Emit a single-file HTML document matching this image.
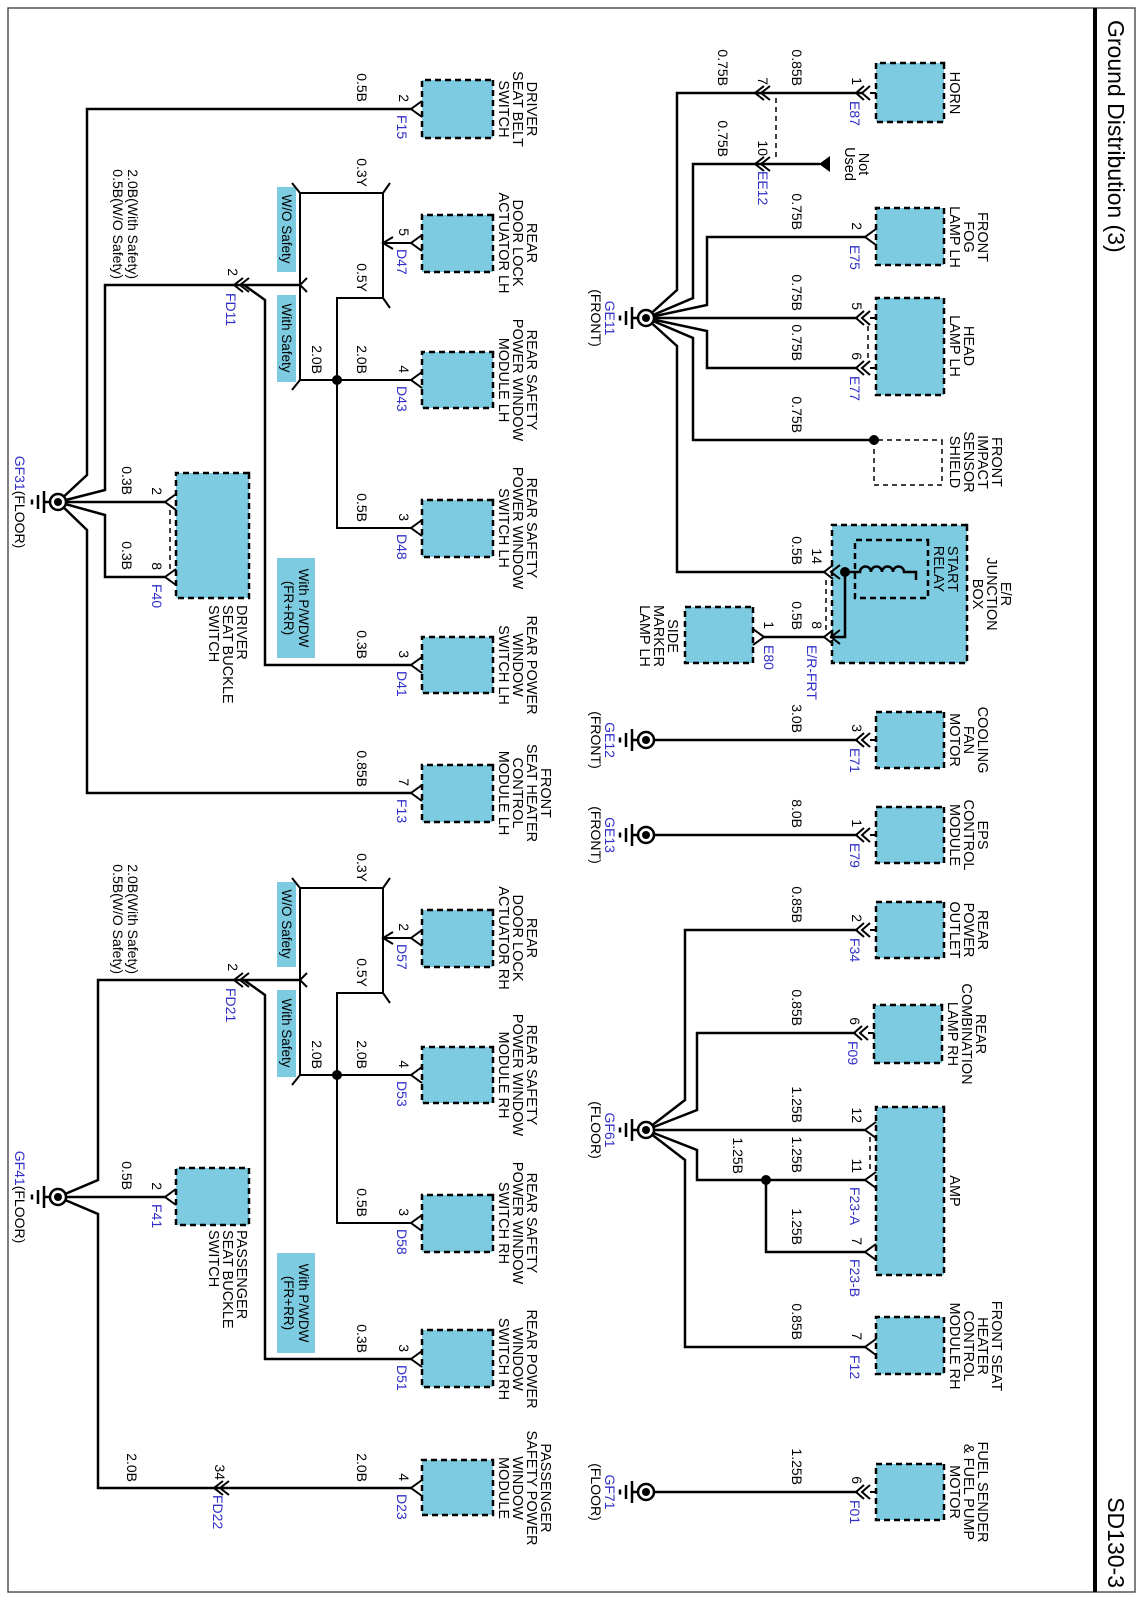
<!DOCTYPE html>
<html><head><meta charset="utf-8"><style>
html,body{margin:0;padding:0;background:#fff;}
#wrap{position:absolute;left:0;top:0;width:1600px;height:1142px;transform-origin:0 0;transform:translate(1142px,0) rotate(90deg);}
svg text{font-family:"Liberation Sans",Arial,sans-serif;}
</style></head><body>
<div id="wrap">
<svg width="1600" height="1142" viewBox="0 0 1600 1142" xmlns="http://www.w3.org/2000/svg">
<rect x="0" y="0" width="1600" height="1142" fill="#fff"/>
<rect x="8" y="7" width="1584" height="1127" fill="none" stroke="#555" stroke-width="1.5"/>
<line x1="8" y1="47" x2="1592" y2="47" stroke="#000" stroke-width="4"/>
<text x="20" y="34" font-size="23">Ground Distribution (3)</text>
<text x="1588" y="34" font-size="23" text-anchor="end">SD130-3</text>

<!-- boxes -->
<g fill="#7ccbe0" stroke="#000" stroke-width="2.5" stroke-dasharray="6 4">
<rect x="63" y="198" width="59" height="68"/>
<rect x="208" y="198" width="57" height="68"/>
<rect x="298" y="198" width="97" height="68"/>
<rect x="525" y="175" width="138" height="135"/>
<rect x="607" y="389" width="56" height="68"/>
<rect x="712" y="198" width="56" height="68"/>
<rect x="807" y="198" width="56" height="68"/>
<rect x="902" y="198" width="56" height="68"/>
<rect x="1005" y="200" width="58" height="68"/>
<rect x="1107" y="198" width="168" height="68"/>
<rect x="1317" y="198" width="57" height="68"/>
<rect x="1464" y="198" width="56" height="68"/>
<rect x="80" y="649" width="58" height="71"/>
<rect x="215" y="649" width="57" height="71"/>
<rect x="352" y="649" width="56" height="71"/>
<rect x="500" y="649" width="57" height="71"/>
<rect x="637" y="649" width="56" height="71"/>
<rect x="765" y="649" width="57" height="71"/>
<rect x="910" y="649" width="57" height="71"/>
<rect x="1047" y="649" width="56" height="71"/>
<rect x="1195" y="649" width="57" height="71"/>
<rect x="1330" y="649" width="57" height="71"/>
<rect x="1460" y="649" width="55" height="71"/>
<rect x="473" y="893" width="125" height="73"/>
<rect x="1168" y="893" width="57" height="73"/>
</g>
<rect x="540" y="214" width="58" height="73" fill="none" stroke="#000" stroke-width="2.5" stroke-dasharray="6 4"/>
<rect x="440" y="200" width="45" height="68" fill="#fff" stroke="#000" stroke-width="1.5" stroke-dasharray="5 4"/>

<!-- option label boxes -->
<g fill="#7ccbe0">
<rect x="187" y="846" width="85" height="19"/>
<rect x="295" y="846" width="87" height="19"/>
<rect x="558" y="827" width="100" height="38"/>
<rect x="882" y="846" width="85" height="19"/>
<rect x="990" y="846" width="87" height="19"/>
<rect x="1253" y="827" width="100" height="38"/>
</g>
<g font-size="13.5" text-anchor="middle">
<text x="229" y="860">W/O Safety</text>
<text x="338" y="860">With Safety</text>
<text x="608" y="843">With P/WDW</text><text x="608" y="858">(FR+RR)</text>
<text x="924" y="860">W/O Safety</text>
<text x="1033" y="860">With Safety</text>
<text x="1303" y="843">With P/WDW</text><text x="1303" y="858">(FR+RR)</text>
</g>

<!-- wires -->
<g fill="none" stroke="#000" stroke-width="2.5">
<path d="M93 280 V465 H290 L318 496"/>
<path d="M164 322 V449 H298 L318 496"/>
<path d="M237 277 V435 H305 L318 496"/>
<path d="M318 284 V496"/>
<path d="M368 284 V435 H331 L318 496"/>
<path d="M440 268 V449 H338 L318 496"/>
<path d="M572 318 V465 H346 L318 496"/>
<path d="M572 297 H637 V312"/>
<path d="M637 318 V380"/>
<path d="M740 284 V496"/>
<path d="M835 284 V496"/>
<path d="M930 284 V457 H1100 L1130 496"/>
<path d="M1033 286 V445 H1110 L1130 496"/>
<path d="M1130 277 V496"/>
<path d="M1180 277 V445 H1150 L1130 496"/>
<path d="M1252 277 V376 H1180"/>
<path d="M1347 277 V457 H1160 L1130 496"/>
<path d="M1492 284 V496"/>
<!-- relay -->
<path d="M572 297 V282 a5.5 5.5 0 0 1 0 -11 a5.5 5.5 0 0 1 0 -11 a5.5 5.5 0 0 1 0 -11 a5.5 5.5 0 0 1 0 -11 V226 H580"/>
<!-- left group -->
<path d="M109 731 V1055 H475 L502 1084"/>
<path d="M285 842 V1037 H490 L502 1084"/>
<path d="M285 898 L300 877 H665 V731"/>
<path d="M793 731 V1055 H530 L502 1084"/>
<path d="M502 977 V1084"/>
<path d="M577 977 V1037 H515 L502 1084"/>
<path d="M980 842 V1044 H1180 L1197 1084"/>
<path d="M980 898 L995 877 H1359 V731"/>
<path d="M1197 977 V1084"/>
<path d="M1488 731 V1044 H1214 L1197 1084"/>
</g>
<g fill="none" stroke="#000" stroke-width="2">
<path d="M193 842 H380 M193 842 V759 M193 759 H298 M243 759 V731 M298 759 V805 H528 V731 M380 842 V731"/>
<path d="M888 842 H1075 M888 842 V759 M888 759 H993 M938 759 V731 M993 759 V805 H1223 V731 M1075 842 V731"/>
<!-- ticks -->
<path d="M193 842 L183 850 M380 842 L390 850 M193 759 L183 752 M298 759 L308 752 M237 749 L243 759 L249 749 M278 835 L285 842 L292 835"/>
<path d="M888 842 L878 850 M1075 842 L1085 850 M888 759 L878 752 M993 759 L1003 752 M932 749 L938 759 L944 749 M973 835 L980 842 L987 835"/>
</g>

<!-- dashed links -->
<g fill="none" stroke="#000" stroke-width="1.5" stroke-dasharray="5 4">
<path d="M98 366 H157"/>
<path d="M326 274 H360"/>
<path d="M580 316 H630"/>
<path d="M1137 272 H1172"/>
<path d="M510 972 H570"/>
</g>

<!-- connectors -->
<g fill="none" stroke="#000" stroke-width="2">
<!-- double top -->
<path d="M93 266 V272 M86 272 L93 280 L100 272 M86 278 L93 286 L100 278"/>
<path d="M318 266 V272 M311 272 L318 280 L325 272 M311 278 L318 286 L325 278"/>
<path d="M368 266 V272 M361 272 L368 280 L375 272 M361 278 L368 286 L375 278"/>
<path d="M740 266 V272 M733 272 L740 280 L747 272 M733 278 L740 286 L747 278"/>
<path d="M835 266 V272 M828 272 L835 280 L842 272 M828 278 L835 286 L842 278"/>
<path d="M930 266 V272 M923 272 L930 280 L937 272 M923 278 L930 286 L937 278"/>
<path d="M1033 268 V274 M1026 274 L1033 282 L1040 274 M1026 280 L1033 288 L1040 280"/>
<path d="M1492 266 V272 M1485 272 L1492 280 L1499 272 M1485 278 L1492 286 L1499 278"/>
<!-- inline 7/10 -->
<path d="M86 372 L93 381 L100 372 M86 378 L93 387 L100 378"/>
<path d="M157 372 L164 381 L171 372 M157 378 L164 387 L171 378"/>
<!-- E/R pins -->
<path d="M565 302 L572 311 L579 302 M565 309 L572 318 L579 309"/>
<path d="M630 302 L637 311 L644 302 M630 309 L637 318 L644 309"/>
<path d="M629 389 L637 378 L645 389"/>
<!-- single top -->
<path d="M229 266 L237 277 L245 266"/>
<path d="M1122 266 L1130 277 L1138 266"/>
<path d="M1172 266 L1180 277 L1188 266"/>
<path d="M1244 266 L1252 277 L1260 266"/>
<path d="M1339 266 L1347 277 L1355 266"/>
<!-- left singles -->
<path d="M101 720 L109 731 L117 720 M235 720 L243 731 L251 720 M372 720 L380 731 L388 720 M520 720 L528 731 L536 720 M657 720 L665 731 L673 720 M785 720 L793 731 L801 720"/>
<path d="M930 720 L938 731 L946 720 M1067 720 L1075 731 L1083 720 M1215 720 L1223 731 L1231 720 M1351 720 L1359 731 L1367 720 M1480 720 L1488 731 L1496 720"/>
<path d="M494 966 L502 977 L510 966 M569 966 L577 977 L585 966 M1189 966 L1197 977 L1205 966"/>
<!-- FD connectors -->
<path d="M278 893 L285 902 L292 893 M278 899 L285 908 L292 899"/>
<path d="M973 893 L980 902 L987 893 M973 899 L980 908 L987 899"/>
<path d="M1481 913 L1488 922 L1495 913 M1481 919 L1488 928 L1495 919"/>
</g>
<polygon points="156,312 172,312 164,323" fill="#000"/>

<!-- dots -->
<g fill="#000">
<circle cx="440" cy="268" r="5"/>
<circle cx="572" cy="297" r="5"/>
<circle cx="1180" cy="376" r="5"/>
<circle cx="380" cy="805" r="5"/>
<circle cx="1075" cy="805" r="5"/>
</g>

<!-- grounds -->
<g id="gnd">
<g transform="translate(318,496)"><circle r="8" fill="#fff" stroke="#000" stroke-width="2.5"/><circle r="4" fill="#000"/><path d="M0 8 V14 M-11 14 H11 M-7 20 H7 M-2.5 26 H2.5" stroke="#000" stroke-width="2.5"/></g>
<g transform="translate(740,496)"><circle r="8" fill="#fff" stroke="#000" stroke-width="2.5"/><circle r="4" fill="#000"/><path d="M0 8 V14 M-11 14 H11 M-7 20 H7 M-2.5 26 H2.5" stroke="#000" stroke-width="2.5"/></g>
<g transform="translate(835,496)"><circle r="8" fill="#fff" stroke="#000" stroke-width="2.5"/><circle r="4" fill="#000"/><path d="M0 8 V14 M-11 14 H11 M-7 20 H7 M-2.5 26 H2.5" stroke="#000" stroke-width="2.5"/></g>
<g transform="translate(1130,496)"><circle r="8" fill="#fff" stroke="#000" stroke-width="2.5"/><circle r="4" fill="#000"/><path d="M0 8 V14 M-11 14 H11 M-7 20 H7 M-2.5 26 H2.5" stroke="#000" stroke-width="2.5"/></g>
<g transform="translate(1492,496)"><circle r="8" fill="#fff" stroke="#000" stroke-width="2.5"/><circle r="4" fill="#000"/><path d="M0 8 V14 M-11 14 H11 M-7 20 H7 M-2.5 26 H2.5" stroke="#000" stroke-width="2.5"/></g>
<g transform="translate(502,1084)"><circle r="8" fill="#fff" stroke="#000" stroke-width="2.5"/><circle r="4" fill="#000"/><path d="M0 8 V14 M-11 14 H11 M-7 20 H7 M-2.5 26 H2.5" stroke="#000" stroke-width="2.5"/></g>
<g transform="translate(1197,1084)"><circle r="8" fill="#fff" stroke="#000" stroke-width="2.5"/><circle r="4" fill="#000"/><path d="M0 8 V14 M-11 14 H11 M-7 20 H7 M-2.5 26 H2.5" stroke="#000" stroke-width="2.5"/></g>
</g>

<!-- component labels -->
<g font-size="14.5" text-anchor="middle">
<text x="93" y="192">HORN</text>
<text x="237" y="164">FRONT</text><text x="237" y="178">FOG</text><text x="237" y="192">LAMP LH</text>
<text x="346" y="178">HEAD</text><text x="346" y="192">LAMP LH</text>
<text x="462" y="150">FRONT</text><text x="462" y="164">IMPACT</text><text x="462" y="178">SENSOR</text><text x="462" y="192">SHIELD</text>
<text x="594" y="141">E/R</text><text x="594" y="155">JUNCTION</text><text x="594" y="169">BOX</text>
<text x="569" y="194">START</text><text x="569" y="208">RELAY</text>
<text x="636" y="474">SIDE</text><text x="636" y="488">MARKER</text><text x="636" y="502">LAMP LH</text>
<text x="740" y="164">COOLING</text><text x="740" y="178">FAN</text><text x="740" y="192">MOTOR</text>
<text x="835" y="164">EPS</text><text x="835" y="178">CONTROL</text><text x="835" y="192">MODULE</text>
<text x="930" y="164">REAR</text><text x="930" y="178">POWER</text><text x="930" y="192">OUTLET</text>
<text x="1034" y="166">REAR</text><text x="1034" y="180">COMBINATION</text><text x="1034" y="194">LAMP RH</text>
<text x="1191" y="192">AMP</text>
<text x="1346" y="150">FRONT SEAT</text><text x="1346" y="164">HEATER</text><text x="1346" y="178">CONTROL</text><text x="1346" y="192">MODULE  RH</text>
<text x="1492" y="164">FUEL SENDER</text><text x="1492" y="178">&amp; FUEL PUMP</text><text x="1492" y="192">MOTOR</text>

<text x="109" y="615">DRIVER</text><text x="109" y="629">SEAT BELT</text><text x="109" y="643">SWITCH</text>
<text x="243" y="615">REAR</text><text x="243" y="629">DOOR LOCK</text><text x="243" y="643">ACTUATOR LH</text>
<text x="380" y="615">REAR SAFETY</text><text x="380" y="629">POWER WINDOW</text><text x="380" y="643">MODULE LH</text>
<text x="528" y="615">REAR SAFETY</text><text x="528" y="629">POWER WINDOW</text><text x="528" y="643">SWITCH LH</text>
<text x="665" y="615">REAR POWER</text><text x="665" y="629">WINDOW</text><text x="665" y="643">SWITCH LH</text>
<text x="793" y="601">FRONT</text><text x="793" y="615">SEAT HEATER</text><text x="793" y="629">CONTROL</text><text x="793" y="643">MODULE LH</text>
<text x="938" y="615">REAR</text><text x="938" y="629">DOOR LOCK</text><text x="938" y="643">ACTUATOR RH</text>
<text x="1075" y="615">REAR SAFETY</text><text x="1075" y="629">POWER WINDOW</text><text x="1075" y="643">MODULE RH</text>
<text x="1223" y="615">REAR SAFETY</text><text x="1223" y="629">POWER WINDOW</text><text x="1223" y="643">SWITCH RH</text>
<text x="1359" y="615">REAR POWER</text><text x="1359" y="629">WINDOW</text><text x="1359" y="643">SWITCH RH</text>
<text x="1488" y="601">PASSENGER</text><text x="1488" y="615">SAFETY POWER</text><text x="1488" y="629">WINDOW</text><text x="1488" y="643">MODULE</text>
</g>
<g font-size="14.5">
<text x="605" y="905">DRIVER</text><text x="605" y="919">SEAT BUCKLE</text><text x="605" y="933">SWITCH</text>
<text x="1230" y="905">PASSENGER</text><text x="1230" y="919">SEAT BUCKLE</text><text x="1230" y="933">SWITCH</text>
<text x="164" y="283" text-anchor="middle">Not</text><text x="164" y="297" text-anchor="middle">Used</text>
</g>

<!-- wire labels -->
<g font-size="14" text-anchor="end">
<text x="86" y="350">0.85B</text>
<text x="86" y="424">0.75B</text>
<text x="157" y="424">0.75B</text>
<text x="230" y="350">0.75B</text>
<text x="311" y="350">0.75B</text>
<text x="361" y="350">0.75B</text>
<text x="433" y="350">0.75B</text>
<text x="565" y="350">0.5B</text>
<text x="630" y="350">0.5B</text>
<text x="733" y="350">3.0B</text>
<text x="828" y="350">8.0B</text>
<text x="923" y="350">0.85B</text>
<text x="1026" y="350">0.85B</text>
<text x="1123" y="350">1.25B</text>
<text x="1173" y="350">1.25B</text>
<text x="1174" y="409">1.25B</text>
<text x="1245" y="350">1.25B</text>
<text x="1340" y="350">0.85B</text>
<text x="1485" y="350">1.25B</text>

<text x="102" y="785">0.5B</text>
<text x="187" y="785">0.3Y</text>
<text x="292" y="785">0.5Y</text>
<text x="374" y="785">2.0B</text>
<text x="374" y="830">2.0B</text>
<text x="522" y="785">0.5B</text>
<text x="659" y="785">0.3B</text>
<text x="787" y="785">0.85B</text>
<text x="882" y="785">0.3Y</text>
<text x="987" y="785">0.5Y</text>
<text x="1069" y="785">2.0B</text>
<text x="1069" y="830">2.0B</text>
<text x="1217" y="785">0.5B</text>
<text x="1353" y="785">0.3B</text>
<text x="1482" y="785">2.0B</text>
<text x="1482" y="1015">2.0B</text>
<text x="495" y="1020">0.3B</text>
<text x="570" y="1020">0.3B</text>
<text x="1190" y="1020">0.5B</text>
<text x="279" y="1014">2.0B(With Safety)</text>
<text x="279" y="1029">0.5B(W/O Safety)</text>
<text x="974" y="1014">2.0B(With Safety)</text>
<text x="974" y="1029">0.5B(W/O Safety)</text>

<!-- pin numbers -->
<text x="85" y="290">1</text>
<text x="85" y="384">7</text>
<text x="156" y="384">10</text>
<text x="230" y="290">2</text>
<text x="310" y="290">5</text>
<text x="360" y="290">6</text>
<text x="564" y="330">14</text>
<text x="629" y="330">8</text>
<text x="629" y="378">1</text>
<text x="732" y="290">3</text>
<text x="827" y="290">1</text>
<text x="922" y="290">2</text>
<text x="1025" y="292">6</text>
<text x="1123" y="290">12</text>
<text x="1173" y="290">11</text>
<text x="1245" y="290">7</text>
<text x="1340" y="290">7</text>
<text x="1484" y="290">6</text>
<text x="102" y="743">2</text>
<text x="236" y="743">5</text>
<text x="373" y="743">4</text>
<text x="521" y="743">3</text>
<text x="658" y="743">3</text>
<text x="786" y="743">7</text>
<text x="931" y="743">2</text>
<text x="1068" y="743">4</text>
<text x="1216" y="743">3</text>
<text x="1352" y="743">3</text>
<text x="1481" y="743">4</text>
<text x="495" y="990">2</text>
<text x="570" y="990">8</text>
<text x="1190" y="990">2</text>
<text x="276" y="914">2</text>
<text x="971" y="914">2</text>
<text x="1480" y="927">34</text>
</g>

<!-- connector IDs -->
<g font-size="14" fill="#3030c8">
<text x="101" y="292">E87</text>
<text x="171" y="384">EE12</text>
<text x="245" y="292">E75</text>
<text x="376" y="292">E77</text>
<text x="645" y="335">E/R-FRT</text>
<text x="645" y="378">E80</text>
<text x="748" y="292">E71</text>
<text x="843" y="292">E79</text>
<text x="938" y="292">F34</text>
<text x="1041" y="294">F09</text>
<text x="1187" y="292">F23-A</text>
<text x="1259" y="292">F23-B</text>
<text x="1355" y="292">F12</text>
<text x="1500" y="292">F01</text>
<text x="115" y="745">F15</text>
<text x="249" y="745">D47</text>
<text x="386" y="745">D43</text>
<text x="534" y="745">D48</text>
<text x="671" y="745">D41</text>
<text x="799" y="745">F13</text>
<text x="944" y="745">D57</text>
<text x="1081" y="745">D53</text>
<text x="1229" y="745">D58</text>
<text x="1365" y="745">D51</text>
<text x="1494" y="745">D23</text>
<text x="584" y="990">F40</text>
<text x="1204" y="990">F41</text>
<text x="293" y="916">FD11</text>
<text x="988" y="916">FD21</text>
<text x="1495" y="929">FD22</text>
</g>

<!-- ground labels -->
<g font-size="14" text-anchor="middle">
<text x="318" y="537" fill="#3030c8">GE11</text><text x="318" y="551">(FRONT)</text>
<text x="740" y="537" fill="#3030c8">GE12</text><text x="740" y="551">(FRONT)</text>
<text x="835" y="537" fill="#3030c8">GE13</text><text x="835" y="551">(FRONT)</text>
<text x="1130" y="537" fill="#3030c8">GF61</text><text x="1130" y="551">(FLOOR)</text>
<text x="1492" y="537" fill="#3030c8">GF71</text><text x="1492" y="551">(FLOOR)</text>
<text x="502" y="1127"><tspan fill="#3030c8">GF31</tspan>(FLOOR)</text>
<text x="1197" y="1127"><tspan fill="#3030c8">GF41</tspan>(FLOOR)</text>
</g>
</svg>
</div>
</body></html>
